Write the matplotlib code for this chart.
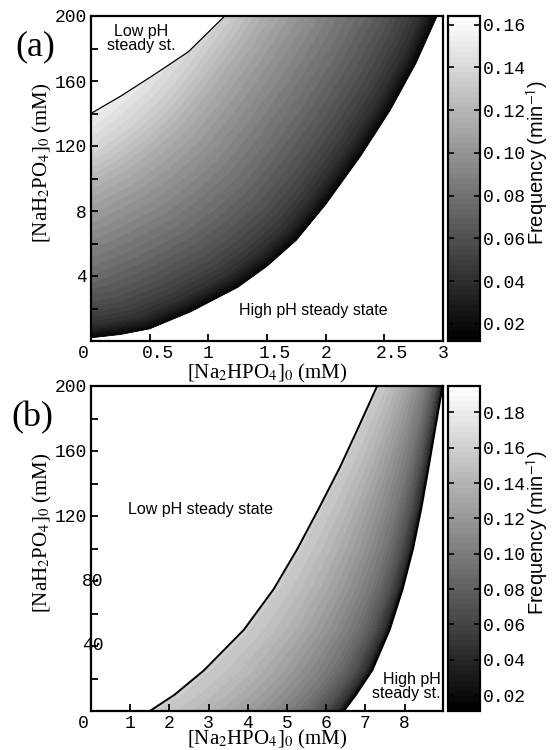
import numpy as np
import matplotlib
matplotlib.use("Agg")
import matplotlib.pyplot as plt
import matplotlib.tri as mtri
import matplotlib.transforms as mtransforms
from matplotlib.patches import Polygon
from matplotlib import cm, colors

plt.rcParams["font.family"] = "Liberation Mono"
plt.rcParams["mathtext.fontset"] = "stix"

# ---- panel (a): Na2HPO4 0..3 mM ----
# lower (high pH) boundary of the oscillatory region
a_lower_x = [0, 0.25, 0.5, 0.85, 1.25, 1.5, 1.75, 2.0, 2.3, 2.55, 2.77, 2.95]
a_lower_y = [2, 4, 7.5, 18, 33, 46, 62, 84, 114, 142, 171, 200]
# upper (low pH) boundary
a_upper_x = [0, 0.26, 0.54, 0.83, 1.14]
a_upper_y = [140, 151, 164, 178, 200]
# iso-frequency lines run parallel to the lower boundary: offset (pixels, up-left
# diagonal) of each line and its frequency (min^-1); negative offsets lie outside
a_iso_off = [-20, -8, 0, 6, 12, 22, 35, 55, 77, 100, 118, 137, 160, 185]
a_iso_f = [-0.037, -0.007, 0.013, 0.028, 0.04, 0.051, 0.062, 0.076, 0.09,
           0.105, 0.118, 0.135, 0.152, 0.166]

# ---- panel (b): Na2HPO4 0..9 mM ----
b_y = [0, 10, 25, 50, 75, 100, 125, 150, 175, 200]
b_left_x = [1.5, 2.13, 2.88, 3.9, 4.66, 5.27, 5.82, 6.35, 6.83, 7.3]
b_right_x = [6.45, 6.76, 7.175, 7.62, 7.95, 8.217, 8.43, 8.613, 8.79, 8.97]
# frequency across the band: fraction of the way from the right (high pH)
# boundary to the left (low pH) one
b_iso_s = [-0.08, 0, 0.04, 0.11, 0.18, 0.25, 0.37, 0.49, 0.62, 0.74, 0.87, 1.0, 1.1]
b_iso_f = [-0.02, 0.012, 0.045, 0.07, 0.085, 0.097, 0.111, 0.123, 0.134, 0.143,
           0.151, 0.158, 0.163]

fig = plt.figure(figsize=(5.55, 7.5), dpi=100)

W, H = 555.0, 750.0


def box(l, t, r, b):
    return [l / W, 1 - b / H, (r - l) / W, (b - t) / H]


ax_a = fig.add_axes(box(91, 16, 443, 341))
cax_a = fig.add_axes(box(448, 16, 480, 341))
ax_b = fig.add_axes(box(91, 386, 443, 711))
cax_b = fig.add_axes(box(448, 386, 480, 711))


def strip_mesh(xs, ys, fs):
    # xs, ys: (n_lines, n_pts) node positions, fs: value of each line
    nl, npt = xs.shape
    tris = []
    for k in range(nl - 1):
        for i in range(npt - 1):
            p = k * npt + i
            tris.append([p, p + 1, p + npt])
            tris.append([p + 1, p + npt + 1, p + npt])
    f = np.repeat(fs, npt)
    return mtri.Triangulation(xs.ravel(), ys.ravel(), tris), f


def draw_field(ax, tri, f, verts, vmin, vmax, step):
    levels = np.arange(vmin, vmax + step, step)
    clip = Polygon(verts, closed=True, facecolor="none", edgecolor="none",
                   transform=ax.transData)
    ax.add_patch(clip)
    cs = ax.tricontourf(tri, f, levels=levels, cmap="gray",
                        norm=colors.Normalize(vmin, vmax), extend="both",
                        antialiased=False)
    cs.set_clip_path(clip)
    return cs


def style_axes(ax):
    for s in ax.spines.values():
        s.set_linewidth(1.6)
    ax.tick_params(direction="in", length=5, width=1.3, labelsize=13, pad=3)


def style_cbar(cax, vmin, vmax, ticks):
    sm = cm.ScalarMappable(norm=colors.Normalize(vmin, vmax),
                           cmap=plt.get_cmap("gray", 64))
    cb = fig.colorbar(sm, cax=cax, ticks=ticks)
    cb.outline.set_linewidth(1.6)
    cax.tick_params(direction="in", length=4, width=1.2, left=True, right=True,
                    labelleft=False, labelright=True, labelsize=13, pad=2)
    cax.set_yticklabels(["%.2f" % t for t in ticks])
    cax.text(2.81, 0.55, "Frequency (min$^{\\mathsf{-1}}$)", rotation=90,
             transform=cax.transAxes, ha="center", va="center",
             family="Liberation Sans", fontsize=14.5)


def shift_labels(ax, fig, shifts):
    for lbl, dx in zip(ax.get_xticklabels(), shifts):
        if dx:
            off = mtransforms.ScaledTranslation(dx / 100.0, 0, fig.dpi_scale_trans)
            lbl.set_transform(lbl.get_transform() + off)


# ---------------- panel (a) ----------------
ax_a.set_xlim(0, 3)
ax_a.set_ylim(0, 200)
pix = ax_a.transData.transform(np.column_stack([a_lower_x, a_lower_y]))
inv = ax_a.transData.inverted()
lines = [inv.transform(pix + np.array([-d, d])) for d in a_iso_off]
xs_a = np.array([ln[:, 0] for ln in lines])
ys_a = np.array([ln[:, 1] for ln in lines])
tri_a, f_a = strip_mesh(xs_a, ys_a, a_iso_f)
verts_a = ([(0, a_lower_y[0])] + list(zip(a_upper_x, a_upper_y))
           + list(zip(a_lower_x[::-1], a_lower_y[::-1])))
draw_field(ax_a, tri_a, f_a, verts_a, 0.012, 0.164, 0.004)
ax_a.plot(a_upper_x, a_upper_y, color="black", lw=0.9)
ax_a.plot(a_lower_x, a_lower_y, color="black", lw=0.6)
ax_a.set_xticks([0, 0.5, 1, 1.5, 2, 2.5, 3])
ax_a.set_xticklabels(["0", "0.5", "1", "1.5", "2", "2.5", "3"])
ax_a.set_yticks(np.arange(0, 201, 20))
ax_a.set_yticklabels(["", "", "4", "", "8", "", "120", "", "160", "", "200"])
style_axes(ax_a)
shift_labels(ax_a, fig, [-8, 8, 0, 8, 0, 8, 0])
ax_a.text(0.43, 186, "Low pH\nsteady st.", ha="center", va="center",
          family="Liberation Sans", fontsize=11.5, linespacing=0.95)
ax_a.text(1.26, 19, "High pH steady state", ha="left", va="center",
          family="Liberation Sans", fontsize=11.5)
style_cbar(cax_a, 0.012, 0.164, [0.02, 0.04, 0.06, 0.08, 0.10, 0.12, 0.14, 0.16])

# ---------------- panel (b) ----------------
L = np.array(b_left_x)
R = np.array(b_right_x)
xs_b = np.array([R - s * (R - L) for s in b_iso_s])
ys_b = np.array([b_y for s in b_iso_s], dtype=float)
tri_b, f_b = strip_mesh(xs_b, ys_b, b_iso_f)
verts_b = list(zip(b_left_x, b_y)) + list(zip(b_right_x[::-1], b_y[::-1]))
draw_field(ax_b, tri_b, f_b, verts_b, 0.011, 0.195, 0.005)
ax_b.plot(b_left_x, b_y, color="black", lw=1.4)
ax_b.plot(b_right_x, b_y, color="black", lw=1.4)
ax_b.set_xlim(0, 8.98)
ax_b.set_ylim(0, 200)
ax_b.set_xticks(range(0, 9))
ax_b.set_yticks(np.arange(0, 201, 20))
ax_b.set_yticklabels(["", "", "", "", "", "", "120", "", "160", "", "200"])
for v in [40, 80]:
    ax_b.text(-0.026, v, str(v), transform=ax_b.get_yaxis_transform(),
              ha="left", va="center", fontsize=13)
style_axes(ax_b)
shift_labels(ax_b, fig, [-8, 0, 0, 0, 0, 0, 0, 0, 0])
ax_b.text(0.95, 124, "Low pH steady state", ha="left", va="center",
          family="Liberation Sans", fontsize=11.5)
ax_b.text(8.92, 15, "High pH\nsteady st.", ha="right", va="center",
          family="Liberation Sans", fontsize=11.5, linespacing=0.95)
style_cbar(cax_b, 0.011, 0.195,
           [0.02, 0.04, 0.06, 0.08, 0.10, 0.12, 0.14, 0.16, 0.18])

for ax, pad in ((ax_a, 0), (ax_b, -3)):
    ax.set_xlabel("[Na$_2$HPO$_4$]$_0$ (mM)", family="Liberation Serif",
                  fontsize=15, labelpad=pad)
    ax.set_ylabel("[NaH$_2$PO$_4$]$_0$ (mM)", family="Liberation Serif",
                  fontsize=15)
    ax.yaxis.set_label_coords(-0.105, 0.55)

fig.text(35 / W, 1 - 47 / H, "(a)", ha="center", va="center",
         family="Liberation Serif", fontsize=26)
fig.text(32 / W, 1 - 418 / H, "(b)", ha="center", va="center",
         family="Liberation Serif", fontsize=26)

fig.savefig("out.png", dpi=100)
